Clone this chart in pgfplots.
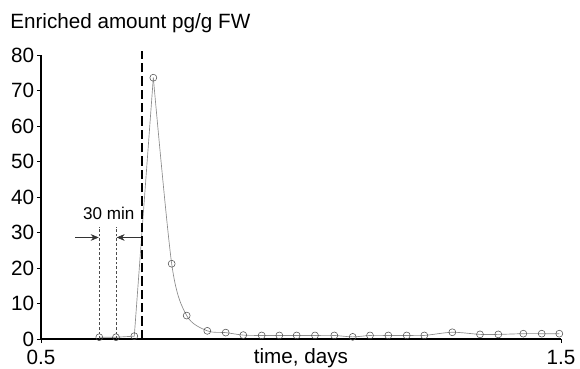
\documentclass[border=0pt]{standalone}
\usepackage{fontspec}
\setmainfont{Liberation Sans}
\usepackage{pgfplots}
\pgfplotsset{compat=1.18}
\usetikzlibrary{arrows.meta}
\begin{document}
\begin{tikzpicture}
\begin{axis}[
  scale only axis,
  width=390pt, height=213pt,
  at={(0,0)}, anchor=south west,
  xmin=0.5, xmax=1.5, ymin=0, ymax=80,
  axis lines*=left,
  axis line style={black, line width=0.8pt},
  tick style={black, line width=0.7pt},
  tick align=outside,
  major tick length=3pt,
  xtick={0.5,1.5},
  xticklabels={0.5,1.5},
  ytick={0,10,...,80},
  clip=false,
  /pgf/number format/assume math mode=true,
  ticklabel style={font=\fontsize{15.5}{18}\selectfont},
  xticklabel style={yshift=-1.8pt},
  yticklabel style={xshift=1.3pt},
]
% rising part (straight)
\addplot[gray!90, line width=0.5pt, mark=none]
  coordinates {(0.6121,0.5) (0.6442,0.5) (0.6794,0.8) (0.7160,73.6)};
% decaying part (smooth)
\addplot[gray!90, line width=0.5pt, smooth, tension=0.5, mark=none]
  coordinates {
  (0.7160,73.6) (0.7513,21.2)
  (0.7802,6.6) (0.8198,2.3) (0.8552,1.8) (0.8890,1.1) (0.9244,1.0)
  (0.9583,1.0) (0.9917,1.0) (1.0269,1.0) (1.0640,1.0) (1.0994,0.6)
  (1.1327,1.0) (1.1679,1.0) (1.2033,1.0) (1.2371,1.0) (1.2910,1.9)
  (1.3442,1.3) (1.3794,1.3) (1.4275,1.5) (1.4629,1.5) (1.4967,1.5)
  };
% thick dashed start line
\addplot[black, line width=1.5pt, dash pattern=on 7pt off 3pt] coordinates {(0.6948,0) (0.6948,81)};
% thin dashed 30 min lines
\addplot[black!70, line width=0.4pt, dash pattern=on 2pt off 1.5pt] coordinates {(0.6121,0) (0.6121,31.6)};
\addplot[black!70, line width=0.4pt, dash pattern=on 2pt off 1.5pt] coordinates {(0.6442,0) (0.6442,31.6)};
% markers
\addplot[only marks, mark=o, mark size=2.6pt, mark options={solid, draw=black!70, fill=white, line width=0.4pt}]
  coordinates {
  (0.6121,0.5) (0.6442,0.5) (0.6794,0.8) (0.7160,73.6) (0.7513,21.2)
  (0.7802,6.6) (0.8198,2.3) (0.8552,1.8) (0.8890,1.1) (0.9244,1.0)
  (0.9583,1.0) (0.9917,1.0) (1.0269,1.0) (1.0640,1.0) (1.0994,0.6)
  (1.1327,1.0) (1.1679,1.0) (1.2033,1.0) (1.2371,1.0) (1.2910,1.9)
  (1.3442,1.3) (1.3794,1.3) (1.4275,1.5) (1.4629,1.5) (1.4967,1.5)
  };
% arrows
\addplot[black!80, line width=0.4pt, -{Stealth[length=6pt,width=5pt]}] coordinates {(0.5654,28.6) (0.6110,28.6)};
\addplot[black!80, line width=0.4pt, -{Stealth[length=6pt,width=5pt]}] coordinates {(0.6923,28.6) (0.6455,28.6)};
\node[font=\fontsize{12.8}{15}\selectfont, anchor=base] at (axis cs:0.6304,33.6) {30 min};
\node[font=\fontsize{15.5}{18}\selectfont, anchor=base] at (axis description cs:0.5,0) [yshift=-18.3pt] {time, days};
\end{axis}
\node[font=\fontsize{15.5}{18}\selectfont, anchor=base west, inner sep=0pt] at (-23.25pt,232.5pt) {Enriched amount pg/g FW};
\pgfresetboundingbox
\path (-30.75pt,-21.75pt) rectangle (404.25pt,254.25pt);
\end{tikzpicture}
\end{document}
